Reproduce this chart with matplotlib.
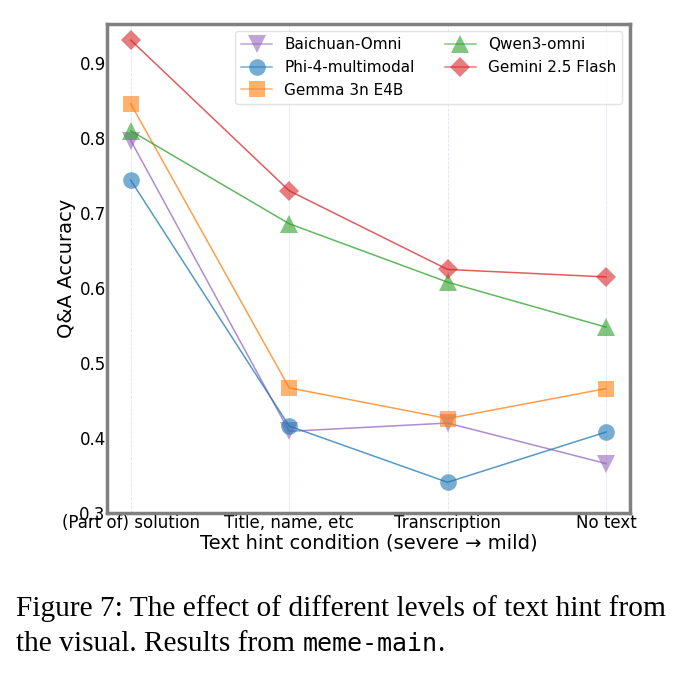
import numpy as np
import matplotlib
matplotlib.use('Agg')
import matplotlib.pyplot as plt

# Data
conditions = ['(Part of) solution', 'Title, name, etc', 'Transcription', 'No text']
models = ['Baichuan-Omni', 'Phi-4-multimodal', 'Gemma 3n E4B', 'Qwen3-omni', 'Gemini 2.5 Flash']
baichuan = [0.797, 0.409, 0.420, 0.366]
phi4 = [0.744, 0.416, 0.341, 0.408]
gemma = [0.846, 0.467, 0.426, 0.466]
qwen = [0.810, 0.686, 0.608, 0.548]
gemini = [0.931, 0.730, 0.625, 0.615]

series = [baichuan, phi4, gemma, qwen, gemini]
colors = ['#9467bd', '#1f77b4', '#ff7f0e', '#2ca02c', '#d62728']
markers = ['v', 'o', 's', '^', 'D']
sizes = [13, 12, 12, 13, 10]

fig = plt.figure(figsize=(6.86, 6.75), dpi=100)
ax = fig.add_axes([0.156, 0.24, 0.762, 0.725])

x = np.arange(len(conditions))
for vals, name, c, m, ms in zip(series, models, colors, markers, sizes):
    ax.plot(x, vals, color=c, alpha=0.75, linewidth=1.1, label=name)
    ax.plot(x, vals, linestyle='none', marker=m, markersize=ms, color=c,
            alpha=0.6, markeredgewidth=0)

# legend handles with line + marker
handles = []
for name, c, m, ms in zip(models, colors, markers, sizes):
    h, = ax.plot([], [], color=c, linewidth=1.1, marker=m, markersize=ms,
                 markeredgewidth=0, alpha=0.6, label=name)
    handles.append(h)
ax.legend(handles=handles, loc='upper right', ncol=2, fontsize=11,
          frameon=True, framealpha=0.8, edgecolor='#dddddd')

ax.set_xlim(-0.15, 3.15)
ax.set_ylim(0.3, 0.953)
ax.set_xticks(x)
ax.set_xticklabels(conditions)
ax.set_yticks([0.3, 0.4, 0.5, 0.6, 0.7, 0.8, 0.9])
ax.set_yticklabels(['0.3', '0.4', '0.5', '0.6', '0.7', '0.8', '0.9'])
ax.tick_params(axis='both', length=0, labelsize=12, pad=1)
ax.grid(axis='x', color='#b0c4de', linestyle='--', linewidth=0.6, alpha=0.45)
ax.set_axisbelow(True)
for s in ax.spines.values():
    s.set_color('#808080')
    s.set_linewidth(2.5)
ax.set_xlabel('Text hint condition (severe \u2192 mild)', fontsize=14, labelpad=1)
ax.set_ylabel('Q&A Accuracy', fontsize=14, labelpad=2)

# caption
cap_font = 'Liberation Serif'
cap_size = 21.2
fig.text(0.023, 1 - 616 / 675, 'Figure 7: The effect of different levels of text hint from',
         fontsize=cap_size, family=cap_font, va='baseline')
t1 = fig.text(0.023, 1 - 651 / 675, 'the visual. Results from ', fontsize=cap_size,
              family=cap_font, va='baseline')
fig.canvas.draw()
r = fig.canvas.get_renderer()
bb = t1.get_window_extent(r)
t2 = fig.text(bb.x1 / fig.bbox.width, 1 - 651 / 675, 'meme-main', fontsize=18,
              family='DejaVu Sans Mono', va='baseline')
fig.canvas.draw()
bb2 = t2.get_window_extent(r)
fig.text(bb2.x1 / fig.bbox.width, 1 - 651 / 675, '.', fontsize=cap_size,
         family=cap_font, va='baseline')

fig.savefig('out.png', dpi=100)
